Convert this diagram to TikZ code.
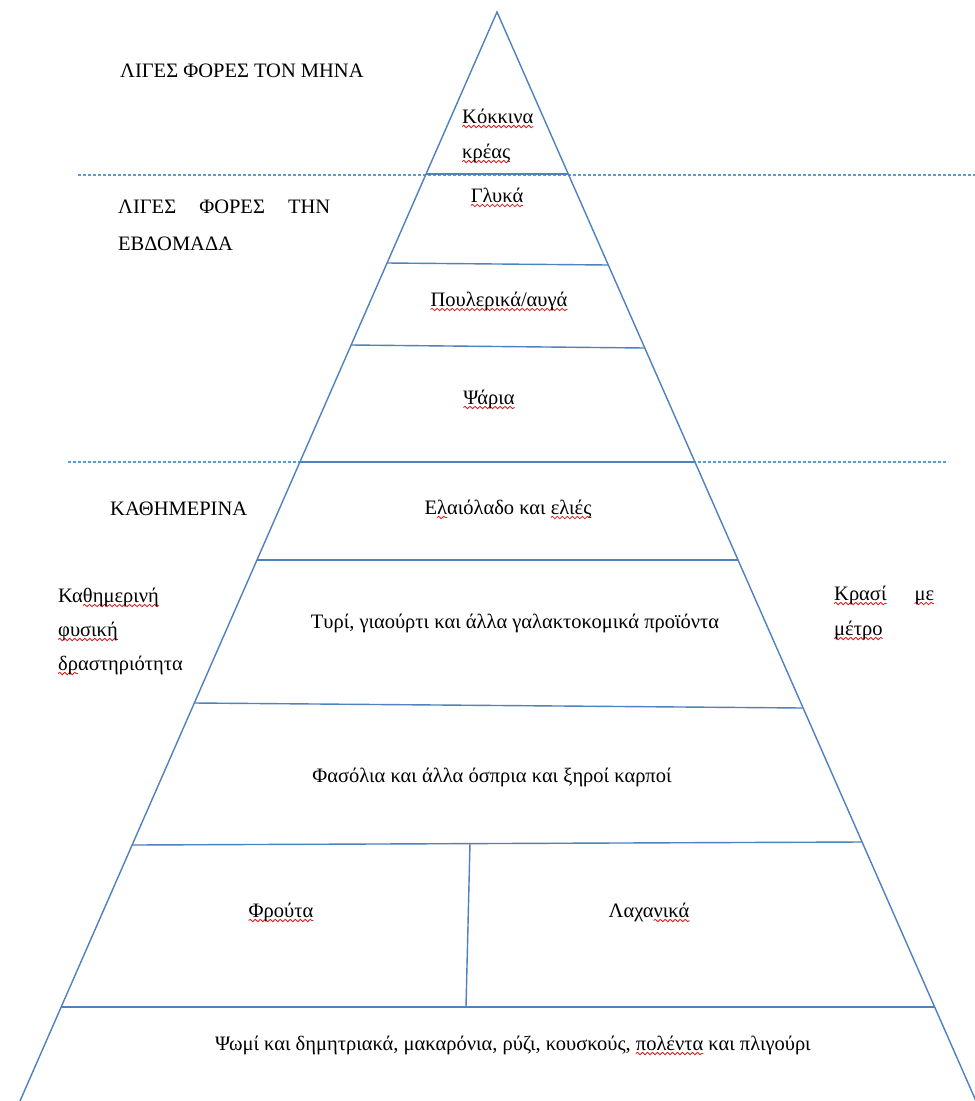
\documentclass[tikz,border=0pt]{standalone}
\usepackage{fontspec}
\setmainfont{Liberation Serif}
\usetikzlibrary{decorations.pathmorphing}
\definecolor{edgeblue}{HTML}{4F81BD}
\definecolor{dashblue}{HTML}{5B9BD5}
\definecolor{squigred}{HTML}{D81E1E}
\tikzset{
  edge/.style={draw=edgeblue, line width=1.4pt},
  sep/.style={draw=dashblue, line width=1.1pt, dash pattern=on 3pt off 2pt},
  lbl/.style={inner sep=0pt, font=\fontsize{20.5}{24}\selectfont},
  squig/.style={draw=squigred, line width=0.8pt, decorate, decoration={snake, amplitude=1.2pt, segment length=5pt}},
}
\newsavebox\sqbox
\newcommand\sq[1]{\sbox\sqbox{#1}\rlap{\tikz[overlay]\draw[squig] (0pt,-3.5pt) -- (\the\wd\sqbox,-3.5pt);}\usebox\sqbox}
\begin{document}
\begin{tikzpicture}[x=1pt,y=-1pt]
\useasboundingbox[fill=white] (0,0) rectangle (975,1101);
% dashed separators
\draw[sep] (78,175) -- (975,175);
\draw[sep] (68,462) -- (948,462);
% pyramid
\coordinate (apex) at (497,12);
\coordinate (bl) at (20,1101);
\coordinate (br) at (976,1101);
\draw[edge] (bl) -- (apex) -- (br);
\draw[edge] (426,174) -- (568,174);
\draw[edge] (387,263) -- (608,265);
\draw[edge] (351,345) -- (645,348);
\draw[edge] (300,462) -- (695,462);
\draw[edge] (257,560) -- (738,560);
\draw[edge] (194,703) -- (803,708);
\draw[edge] (132,845) -- (862,842);
\draw[edge] (61,1007) -- (935,1007);
\draw[edge] (470,843) -- (466,1007);
% left labels
\node[lbl, anchor=base west] (mon) at (120,77) {ΛΙΓΕΣ ΦΟΡΕΣ ΤΟΝ ΜΗΝΑ};
\node[lbl, anchor=base west] (wk1) at (118,213) {\makebox[212pt][s]{ΛΙΓΕΣ\hfill ΦΟΡΕΣ\hfill ΤΗΝ}};
\node[lbl, anchor=base west] (wk2) at (118,250) {ΕΒΔΟΜΑΔΑ};
\node[lbl, anchor=base west] (day) at (110,515) {ΚΑΘΗΜΕΡΙΝΑ};
\node[lbl, anchor=base west] (ph1) at (58,602) {Κα\sq{θημερινή}};
\node[lbl, anchor=base west] (ph2) at (58,636) {\sq{φυσική}};
\node[lbl, anchor=base west] (ph3) at (58,670) {\sq{δρ}αστηριότητα};
% right labels
\node[lbl, anchor=base west] (wn1) at (834,600) {\makebox[100pt][s]{\sq{Κρασί}\hfill \sq{με}}};
\node[lbl, anchor=base west] (wn2) at (834,635) {\sq{μέτρο}};
% pyramid contents
\node[lbl, anchor=base west] (rm1) at (462,123) {\sq{Κόκκινα}};
\node[lbl, anchor=base west] (rm2) at (462,158) {\sq{κρέας}};
\node[lbl, anchor=base] (sw) at (497,202) {\sq{Γλυκά}};
\node[lbl, anchor=base] (pl) at (499,306) {\sq{Πουλερικά/αυγά}};
\node[lbl, anchor=base] (fi) at (489,404) {\sq{Ψάρια}};
\node[lbl, anchor=base] (ol) at (508,514) {Ε\sq{λ}αιόλαδο και \sq{ελιές}};
\node[lbl, anchor=base] (da) at (515,628) {Τυρί, γιαούρτι και άλλα γαλακτοκομικά προϊόντα};
\node[lbl, anchor=base] (be) at (492,782) {Φασόλια και άλλα όσπρια και ξηροί καρποί};
\node[lbl, anchor=base] (fr) at (281,917) {\sq{Φρούτα}};
\node[lbl, anchor=base] (ve) at (649,917) {Λαχα\sq{νικά}};
\node[lbl, anchor=base] (bread) at (513,1050) {Ψωμί και δημητριακά, μακαρόνια, ρύζι, κουσκούς, \sq{πολέντα} και πλιγούρι};
\end{tikzpicture}
\end{document}
